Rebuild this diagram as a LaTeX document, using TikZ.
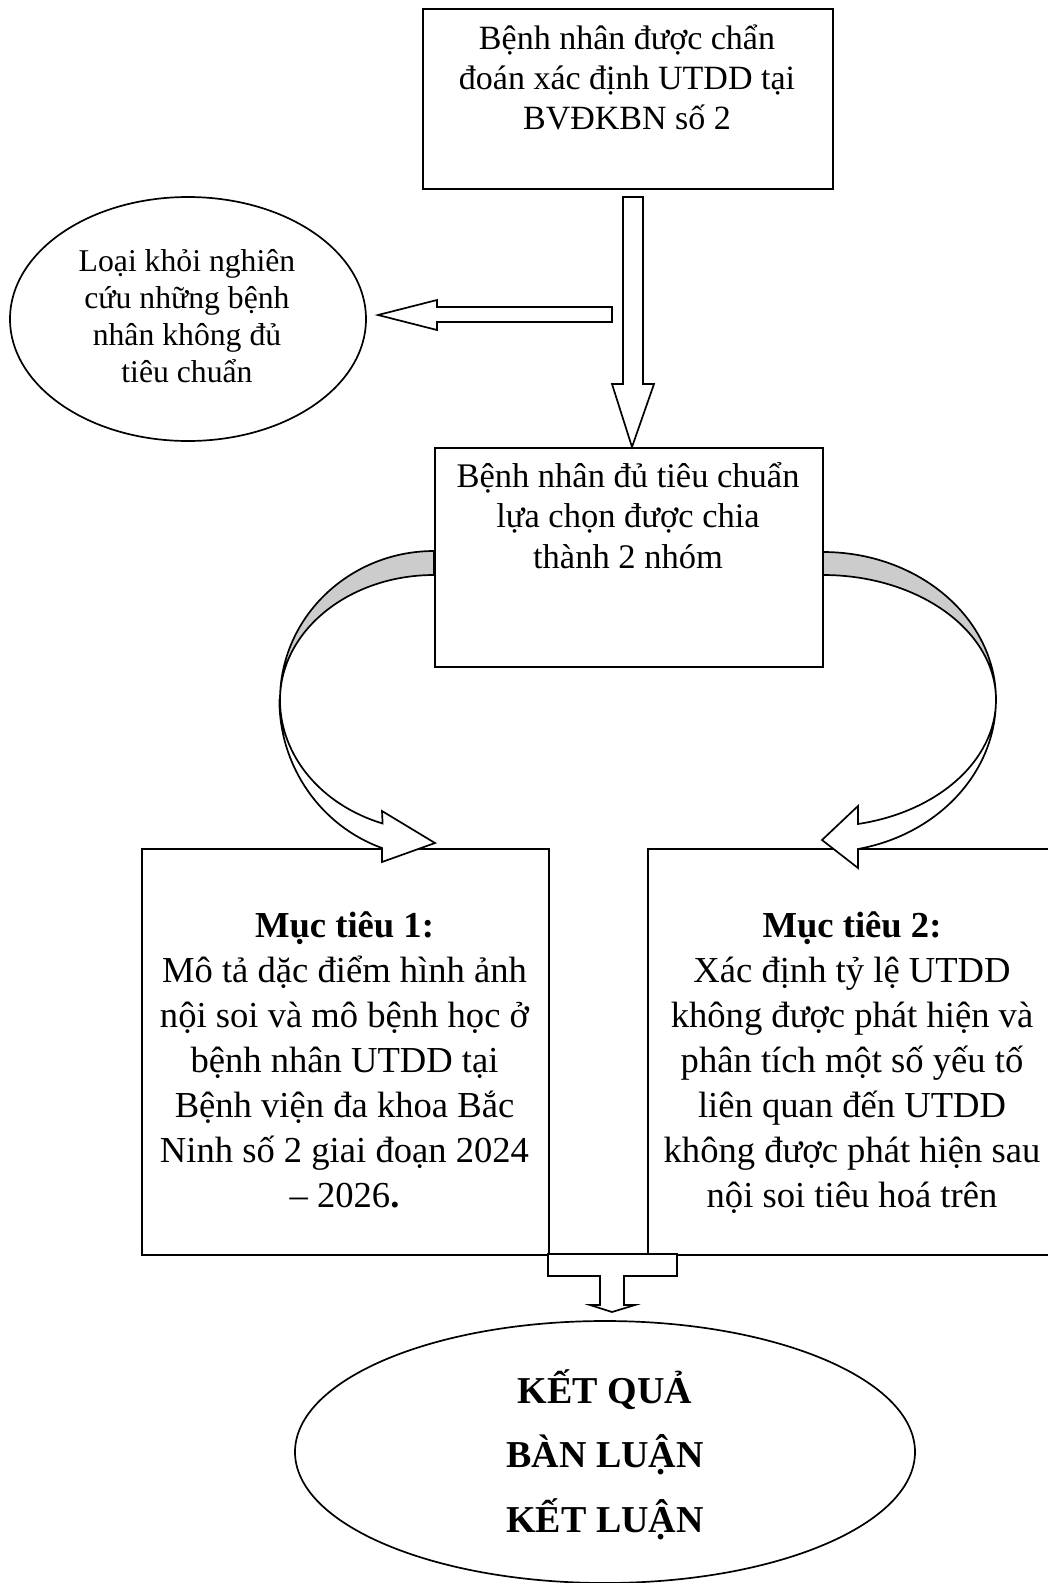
\documentclass[tikz,border=0pt]{standalone}
\usepackage{fontspec}
\setmainfont{Liberation Serif}
\usetikzlibrary{shapes.geometric}
\begin{document}
\begin{tikzpicture}[x=1pt,y=-1pt,line join=miter,
  lw/.style={line width=1.7pt},
  boxst/.style={draw=black,lw,fill=white,inner sep=0pt,anchor=north west},
  ellst/.style={ellipse,draw=black,lw,fill=white,inner sep=0pt},
  blockarrow/.style={draw=black,lw,fill=white},
  bandgray/.style={draw=black,lw,fill=black!20},
  txt/.style={inner sep=0pt,align=center,anchor=base}]
\useasboundingbox (0,0) rectangle (1048,1583);
\clip (0,0) rectangle (1048,1583);

% boxes and ellipses
\node[boxst,minimum width=410pt,minimum height=180pt] (top) at (422,8) {};
\node[ellst,minimum width=356pt,minimum height=244pt] (excl) at (188,319) {};
\node[boxst,minimum width=388pt,minimum height=219pt] (mid) at (434,447) {};
\node[boxst,minimum width=407pt,minimum height=406pt] (goal1) at (141,848) {};
\node[boxst,minimum width=410pt,minimum height=406pt] (goal2) at (647,848) {};
\node[ellst,minimum width=620pt,minimum height=262pt] (res) at (605,1452) {};

% texts (anchor base = baseline of the last line)
\node[txt,font=\fontsize{34}{40}\selectfont] (ttop) at (627,129)
  {Bệnh nhân được chẩn\\đoán xác định UTDD tại\\BVĐKBN số 2};
\node[txt,font=\fontsize{31.7}{36.8}\selectfont] (texcl) at (187,382)
  {Loại khỏi nghiên\\cứu những bệnh\\nhân không đủ\\tiêu chuẩn};
\node[txt,font=\fontsize{34.5}{40.5}\selectfont] (tmid) at (628,568)
  {Bệnh nhân đủ tiêu chuẩn\\lựa chọn được chia\\thành 2 nhóm};
\node[txt,font=\fontsize{36.6}{45}\selectfont] (tg1) at (344.5,1207)
  {\textbf{Mục tiêu 1:}\\Mô tả dặc điểm hình ảnh\\nội soi và mô bệnh học ở\\bệnh nhân UTDD tại\\Bệnh viện đa khoa Bắc\\Ninh số 2 giai đoạn 2024\\– 2026\textbf{.}};
\node[txt,font=\fontsize{36.6}{45}\selectfont] (tg2) at (852,1207)
  {\textbf{Mục tiêu 2:}\\Xác định tỷ lệ UTDD\\không được phát hiện và\\phân tích một số yếu tố\\liên quan đến UTDD\\không được phát hiện sau\\nội soi tiêu hoá trên};
\node[txt,font=\fontsize{38}{64.5}\selectfont\bfseries] (tres) at (605,1532)
  {KẾT QUẢ\\BÀN LUẬN\\KẾT LUẬN};

% straight block arrows
\draw[blockarrow] (623,197) -- (643,197) -- (643,384) -- (654,384) -- (632,447)
  -- (612,384) -- (623,384) -- cycle;
\draw[blockarrow] (612,307) -- (612,322) -- (437,322) -- (437,330) -- (378,315)
  -- (437,300) -- (437,307) -- cycle;

% left curved arrow
\draw[bandgray] (434,551) arc[start angle=-90,end angle=-180,x radius=154,y radius=149]
  arc[start angle=180,end angle=270,x radius=154,y radius=125] -- cycle;
\draw[blockarrow] (280,700) arc[start angle=180,end angle=109.5,x radius=154,y radius=131]
  -- (382,811) -- (435,843) -- (382,862) -- (382,848)
  arc[start angle=109.5,end angle=180,x radius=154,y radius=157] -- cycle;

% right curved arrow
\draw[bandgray] (823,552) arc[start angle=-90,end angle=0,x radius=173,y radius=148]
  arc[start angle=0,end angle=-90,x radius=173,y radius=125] -- cycle;
\draw[blockarrow] (996,700) arc[start angle=0,end angle=78.3,x radius=173,y radius=126.6]
  -- (858,806) -- (822,840) -- (858,868) -- (858,849)
  arc[start angle=78.3,end angle=0,x radius=173,y radius=152] -- cycle;

% bottom connector
\draw[blockarrow] (548,1254) -- (548,1276) -- (600,1276) -- (600,1305) -- (590,1305)
  -- (612,1312) -- (635,1305) -- (624,1305) -- (624,1276) -- (677,1276) -- (677,1254) -- cycle;
\end{tikzpicture}
\end{document}
